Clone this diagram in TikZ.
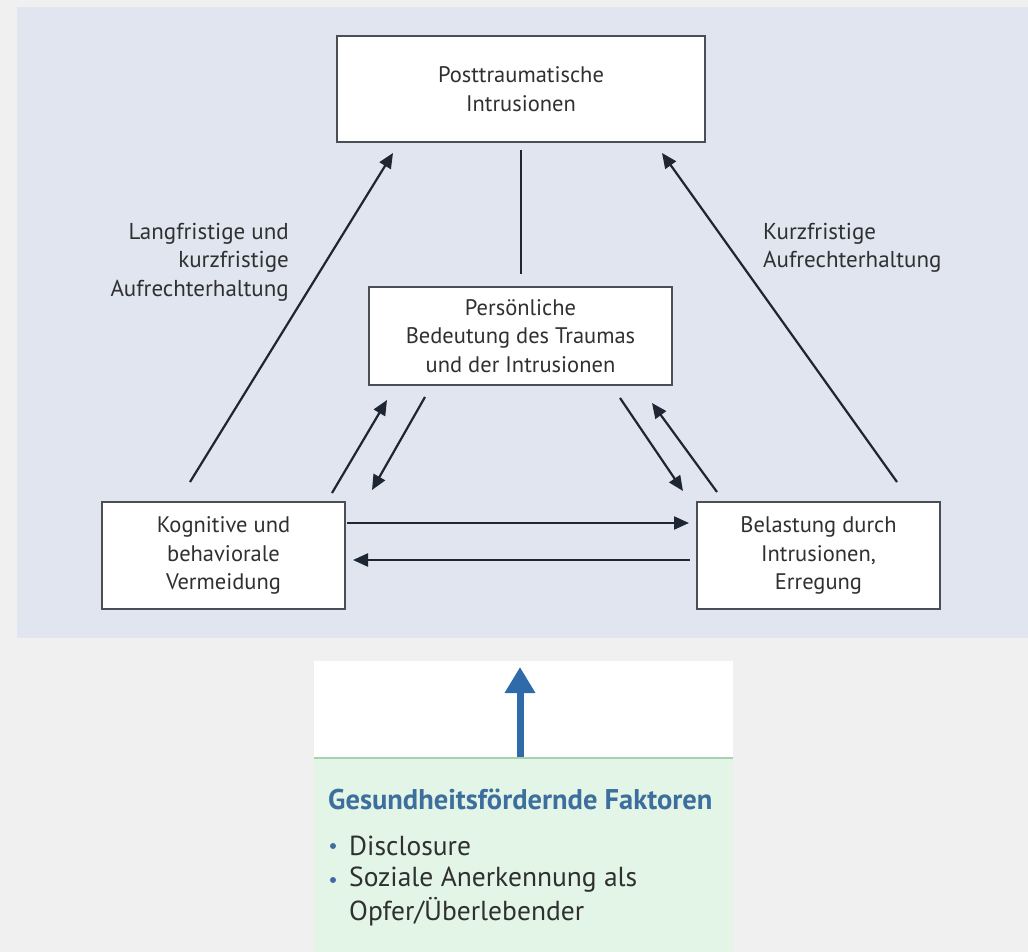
\documentclass[tikz,border=0pt]{standalone}
\usepackage{fontspec}
\setmainfont{PT Sans}
\usetikzlibrary{arrows.meta}
\definecolor{pagebg}{HTML}{F0F0F0}
\definecolor{panelbg}{HTML}{E0E5F0}
\definecolor{boxline}{HTML}{4A4F56}
\definecolor{arrowcol}{HTML}{1E2633}
\definecolor{txt}{HTML}{303030}
\definecolor{greenbg}{HTML}{E3F5E6}
\definecolor{greenline}{HTML}{A9D2AC}
\definecolor{blueart}{HTML}{2F6BA8}
\definecolor{bluetxt}{HTML}{3C6E9E}
\tikzset{
  x=1pt, y=-1pt,
  box/.style={draw=boxline, line width=2.2pt, fill=white, text=txt, align=center,
    inner sep=0pt, font=\fontsize{22.5}{28.5}\selectfont},
  conn/.style={draw=arrowcol, line width=2.2pt},
  arr/.style={conn, -{Triangle[length=15pt,width=13pt]}},
  lbl/.style={text=txt, inner sep=0pt, font=\fontsize{23}{28.5}\selectfont},
  btxt/.style={text=txt, inner sep=0pt, anchor=west, font=\fontsize{27.5}{33}\selectfont},
  bdot/.style={circle, fill=bluetxt, inner sep=0pt, minimum size=6pt}
}
\begin{document}
\begin{tikzpicture}
\useasboundingbox (0,0) rectangle (1028,952);
\fill[pagebg] (0,0) rectangle (1028,952);
\fill[panelbg] (17,7) rectangle (1028,638);

% boxes
\node[box, minimum width=368pt, minimum height=106pt] (top) at (521,89) {Posttraumatische\\Intrusionen};
\node[box, minimum width=303pt, minimum height=98pt] (mid) at (520.5,336) {Persönliche\\Bedeutung des Traumas\\und der Intrusionen};
\node[box, minimum width=243pt, minimum height=107pt] (left) at (223.5,555.5) {Kognitive und\\behaviorale\\Vermeidung};
\node[box, minimum width=243pt, minimum height=107pt] (right) at (818.5,555.5) {Belastung durch\\Intrusionen,\\Erregung};

% labels
\node[lbl, anchor=east, align=right] (llab) at (289,262) {Langfristige und\\kurzfristige\\Aufrechterhaltung};
\node[lbl, anchor=west, align=left] (rlab) at (763,248) {Kurzfristige\\Aufrechterhaltung};

% connector endpoints
\coordinate (vt) at (521,150);
\coordinate (vb) at (521,274);
\coordinate (l1s) at (190,482);
\coordinate (l1e) at (393,153);
\coordinate (r1s) at (897,482);
\coordinate (r1e) at (662,153);
\coordinate (lus) at (332,493);
\coordinate (lue) at (387,400);
\coordinate (lds) at (425,397);
\coordinate (lde) at (372,490);
\coordinate (rds) at (620,398);
\coordinate (rde) at (683,491);
\coordinate (rus) at (717,492);
\coordinate (rue) at (652,403);
\coordinate (h1s) at (347,523);
\coordinate (h1e) at (689,523);
\coordinate (h2s) at (690,560);
\coordinate (h2e) at (353,560);

\draw[conn] (vt) -- (vb);
\draw[arr] (l1s) -- (l1e);
\draw[arr] (r1s) -- (r1e);
\draw[arr] (lus) -- (lue);
\draw[arr] (lds) -- (lde);
\draw[arr] (rds) -- (rde);
\draw[arr] (rus) -- (rue);
\draw[arr] (h1s) -- (h1e);
\draw[arr] (h2s) -- (h2e);

% bottom box
\fill[white] (314,661) rectangle (733,758);
\fill[greenbg] (314,758) rectangle (733,952);
\draw[greenline, line width=1.5pt] (314,758) -- (733,758);
\coordinate (bas) at (520,757);
\coordinate (bae) at (520,667);
\draw[blueart, line width=7pt, -{Triangle[length=26pt,width=29pt]}] (bas) -- (bae);

\node[text=bluetxt, inner sep=0pt, anchor=west, font=\fontsize{28.5}{33}\selectfont\bfseries] (head) at (328,799) {Gesundheitsfördernde Faktoren};
\node[bdot] (d1) at (333,846) {};
\node[bdot] (d2) at (333,880) {};
\node[btxt] (t1) at (349,846) {Disclosure};
\node[btxt] (t2) at (349,880) {Soziale Anerkennung als};
\node[btxt] (t3) at (349,912) {Opfer/Überlebender};
\end{tikzpicture}
\end{document}
